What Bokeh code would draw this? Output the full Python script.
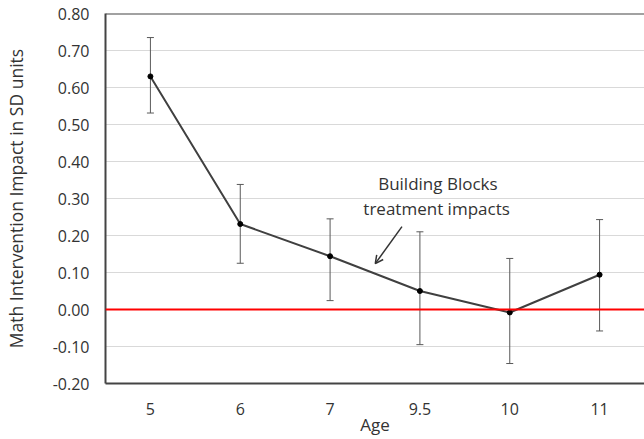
from bokeh.plotting import figure
from bokeh.models import (ColumnDataSource, FactorRange, Range1d, FixedTicker, NumeralTickFormatter,
                          Whisker, TeeHead, Span, Label, Arrow, OpenHead)
from bokeh.embed import file_html
from bokeh.resources import INLINE

ages = ["5", "6", "7", "9.5", "10", "11"]
impact = [0.630, 0.231, 0.144, 0.050, -0.008, 0.094]
upper = [0.735, 0.338, 0.245, 0.210, 0.138, 0.243]
lower = [0.531, 0.125, 0.024, -0.095, -0.146, -0.058]
y_ticks = [-0.20, -0.10, 0.00, 0.10, 0.20, 0.30, 0.40, 0.50, 0.60, 0.70, 0.80]

FONT = "Open Sans"
TXT = "#333333"
FRAME = "#444444"

src = ColumnDataSource(dict(age=ages, impact=impact, upper=upper, lower=lower))

p = figure(width=644, height=438, x_range=FactorRange(*ages), y_range=Range1d(-0.20, 0.80),
           output_backend="svg", toolbar_location=None,
           min_border_left=105, min_border_top=13, min_border_right=0, min_border_bottom=55)
p.outline_line_color = None
p.background_fill_color = "white"

p.xgrid.grid_line_color = None
p.ygrid.grid_line_color = "#d9d9d9"
p.ygrid.grid_line_width = 1

p.yaxis.ticker = FixedTicker(ticks=y_ticks)
p.yaxis.formatter = NumeralTickFormatter(format="0.00")
p.yaxis.axis_label = "Math Intervention Impact in SD units"
p.xaxis.axis_label = "Age"
for ax in (p.xaxis, p.yaxis):
    ax.major_tick_out = 0
    ax.major_tick_in = 0
    ax.minor_tick_line_color = None
    ax.axis_line_color = FRAME
    ax.axis_line_width = 2
    ax.major_label_text_font = FONT
    ax.major_label_text_font_size = "16px"
    ax.major_label_text_color = TXT
    ax.axis_label_text_font = FONT
    ax.axis_label_text_font_size = "17.5px"
    ax.axis_label_text_font_style = "normal"
    ax.axis_label_text_color = TXT
p.xaxis.axis_label_text_font_size = "17px"
p.yaxis.major_label_standoff = 16
p.yaxis.axis_label_standoff = 22
p.xaxis.major_label_standoff = 19
p.xaxis.axis_label_standoff = -5

# top frame edge
p.add_layout(Span(location=0.80, dimension="width", line_color=FRAME, line_width=2))
# zero reference line
p.add_layout(Span(location=0, dimension="width", line_color="#ff0000", line_width=2))

p.add_layout(Whisker(base="age", upper="upper", lower="lower", source=src,
                     line_color="#595959", line_width=1,
                     upper_head=TeeHead(size=7, line_color="#595959", line_width=1),
                     lower_head=TeeHead(size=7, line_color="#595959", line_width=1)))

p.line(x="age", y="impact", source=src, line_color="#404040", line_width=2)
p.scatter(x="age", y="impact", source=src, size=5, fill_color="black", line_color="black")

p.add_layout(Label(x=3.70, y=0.34, text="Building Blocks", text_align="center", text_baseline="middle",
                   text_font=FONT, text_font_size="17px", text_color=TXT))
p.add_layout(Label(x=3.71, y=0.272, text="treatment  impacts", text_align="center", text_baseline="middle",
                   text_font=FONT, text_font_size="17px", text_color=TXT))
p.add_layout(Arrow(x_start=3.30, y_start=0.224, x_end=3.003, y_end=0.124,
                   line_color="#333333", line_width=1.5,
                   end=OpenHead(size=8, line_color="#333333", line_width=1.5)))

open("out.html", "w").write(file_html(p, INLINE))
